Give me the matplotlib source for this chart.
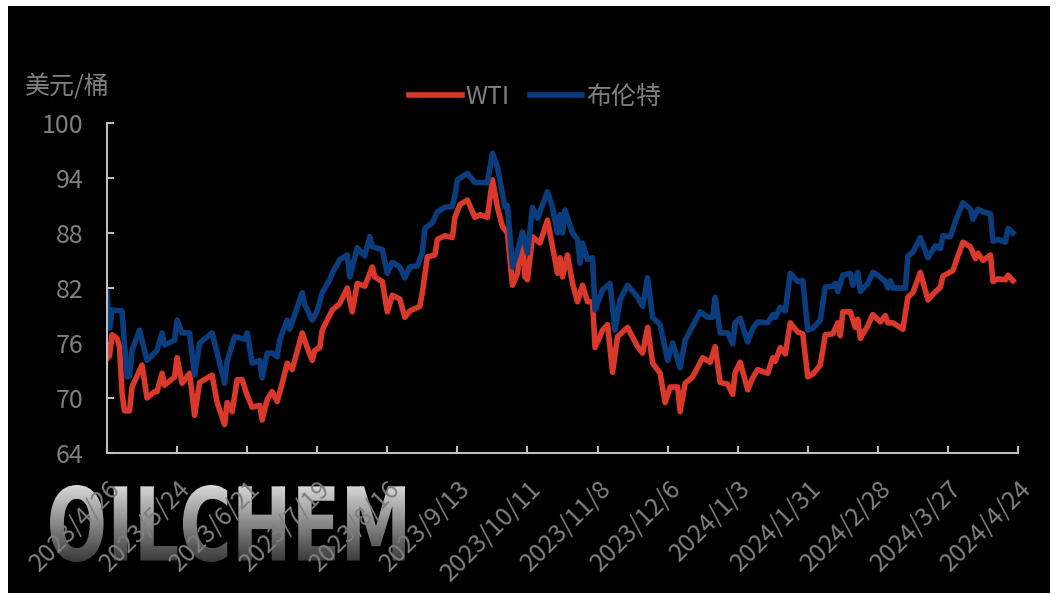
import pandas as pd
import matplotlib
matplotlib.use('Agg')
import matplotlib.pyplot as plt
from matplotlib.textpath import TextPath
from matplotlib.patches import PathPatch, Rectangle
from matplotlib.font_manager import FontProperties
from matplotlib.transforms import Affine2D
import numpy as np

plt.rcParams['font.family'] = ['Noto Sans CJK SC', 'DejaVu Sans']

# data (USD/bbl)
brent_dates = ['2023-04-26', '2023-04-27', '2023-04-28', '2023-05-02', '2023-05-04', '2023-05-05', '2023-05-06',
               '2023-05-09', '2023-05-12', '2023-05-16', '2023-05-18', '2023-05-19', '2023-05-23', '2023-05-24',
               '2023-05-26', '2023-05-29', '2023-05-31', '2023-06-02', '2023-06-07', '2023-06-12', '2023-06-13',
               '2023-06-16', '2023-06-20', '2023-06-21', '2023-06-23', '2023-06-26', '2023-06-27', '2023-06-29',
               '2023-07-01', '2023-07-03', '2023-07-04', '2023-07-07', '2023-07-08', '2023-07-13', '2023-07-14',
               '2023-07-17', '2023-07-19', '2023-07-21', '2023-07-24', '2023-07-25', '2023-07-28', '2023-07-31',
               '2023-08-01', '2023-08-04', '2023-08-07', '2023-08-09', '2023-08-10', '2023-08-14', '2023-08-16',
               '2023-08-18', '2023-08-21', '2023-08-23', '2023-08-25', '2023-08-28', '2023-08-30', '2023-08-31',
               '2023-09-03', '2023-09-05', '2023-09-08', '2023-09-11', '2023-09-12', '2023-09-13', '2023-09-17',
               '2023-09-20', '2023-09-25', '2023-09-27', '2023-09-29', '2023-10-02', '2023-10-03', '2023-10-05',
               '2023-10-07', '2023-10-09', '2023-10-11', '2023-10-13', '2023-10-15', '2023-10-19', '2023-10-21',
               '2023-10-23', '2023-10-24', '2023-10-25', '2023-10-26', '2023-10-29', '2023-10-31', '2023-11-01',
               '2023-11-02', '2023-11-04', '2023-11-06', '2023-11-07', '2023-11-10', '2023-11-13', '2023-11-15',
               '2023-11-17', '2023-11-20', '2023-11-24', '2023-11-26', '2023-11-28', '2023-11-30', '2023-12-03',
               '2023-12-06', '2023-12-08', '2023-12-11', '2023-12-13', '2023-12-19', '2023-12-22', '2023-12-24',
               '2023-12-25', '2023-12-27', '2023-12-30', '2024-01-01', '2024-01-02', '2024-01-04', '2024-01-07',
               '2024-01-09', '2024-01-11', '2024-01-15', '2024-01-17', '2024-01-18', '2024-01-20', '2024-01-22',
               '2024-01-24', '2024-01-27', '2024-01-29', '2024-01-31', '2024-02-02', '2024-02-05', '2024-02-07',
               '2024-02-10', '2024-02-11', '2024-02-12', '2024-02-14', '2024-02-17', '2024-02-18', '2024-02-20',
               '2024-02-21', '2024-02-24', '2024-02-26', '2024-02-28', '2024-03-02', '2024-03-03', '2024-03-04',
               '2024-03-05', '2024-03-10', '2024-03-11', '2024-03-13', '2024-03-16', '2024-03-19', '2024-03-22',
               '2024-03-24', '2024-03-25', '2024-03-28', '2024-03-30', '2024-04-02', '2024-04-05', '2024-04-06',
               '2024-04-08', '2024-04-10', '2024-04-13', '2024-04-14', '2024-04-16', '2024-04-19', '2024-04-20',
               '2024-04-22']
brent = [81.5, 77.6, 79.6, 79.5, 72.3, 72.4, 75.2,
         77.4, 74.1, 75.2, 77.1, 75.8, 76.3, 78.5,
         77.1, 77.1, 72.5, 76.0, 77.1, 71.6, 74.0,
         76.7, 76.4, 77.1, 73.8, 74.1, 72.2, 74.9,
         74.9, 74.5, 76.3, 78.5, 77.5, 81.5, 80.2,
         78.5, 79.5, 81.5, 82.9, 83.6, 85.1, 85.6,
         83.2, 86.4, 85.5, 87.6, 86.5, 86.2, 83.6,
         84.8, 84.3, 83.1, 84.3, 84.4, 85.9, 88.5,
         89.1, 90.3, 90.8, 90.9, 92.1, 93.8, 94.5,
         93.5, 93.5, 96.7, 95.2, 90.8, 91.0, 84.3,
         86.0, 88.1, 85.8, 90.8, 89.6, 92.5, 90.8,
         88.0, 90.0, 88.0, 90.5, 88.0, 87.3, 84.7,
         86.9, 85.1, 85.3, 79.6, 81.8, 82.5, 77.4,
         80.7, 82.3, 81.0, 80.0, 83.1, 78.8, 78.0,
         74.1, 76.0, 73.3, 76.3, 79.4, 78.8, 78.8,
         81.0, 77.1, 77.1, 75.9, 78.2, 78.7, 76.1,
         77.6, 78.3, 78.2, 79.1, 78.8, 79.9, 79.5,
         83.6, 82.7, 82.8, 77.4, 77.6, 78.5, 82.1,
         82.2, 82.5, 81.6, 83.4, 83.6, 82.3, 83.7,
         81.6, 82.5, 83.7, 83.4, 82.7, 82.0, 82.8,
         82.0, 82.0, 85.5, 85.9, 87.5, 85.3, 86.6,
         86.3, 87.7, 87.6, 89.3, 91.3, 90.6, 89.5,
         90.6, 90.3, 90.1, 87.1, 87.3, 87.0, 88.5,
         88.0]

wti_dates = ['2023-04-26', '2023-04-27', '2023-04-28', '2023-04-30', '2023-05-01', '2023-05-02', '2023-05-03',
             '2023-05-05', '2023-05-06', '2023-05-10', '2023-05-12', '2023-05-15', '2023-05-16', '2023-05-18',
             '2023-05-19', '2023-05-23', '2023-05-24', '2023-05-26', '2023-05-29', '2023-05-31', '2023-06-02',
             '2023-06-07', '2023-06-09', '2023-06-12', '2023-06-13', '2023-06-15', '2023-06-17', '2023-06-19',
             '2023-06-21', '2023-06-23', '2023-06-26', '2023-06-27', '2023-06-29', '2023-07-01', '2023-07-03',
             '2023-07-05', '2023-07-07', '2023-07-09', '2023-07-13', '2023-07-15', '2023-07-17', '2023-07-18',
             '2023-07-20', '2023-07-21', '2023-07-25', '2023-07-28', '2023-07-31', '2023-08-02', '2023-08-04',
             '2023-08-07', '2023-08-10', '2023-08-11', '2023-08-14', '2023-08-16', '2023-08-18', '2023-08-21',
             '2023-08-23', '2023-08-25', '2023-08-29', '2023-08-30', '2023-09-01', '2023-09-04', '2023-09-05',
             '2023-09-08', '2023-09-11', '2023-09-12', '2023-09-14', '2023-09-17', '2023-09-20', '2023-09-22',
             '2023-09-25', '2023-09-27', '2023-09-29', '2023-10-01', '2023-10-03', '2023-10-05', '2023-10-07',
             '2023-10-09', '2023-10-10', '2023-10-11', '2023-10-13', '2023-10-16', '2023-10-19', '2023-10-21',
             '2023-10-23', '2023-10-24', '2023-10-25', '2023-10-27', '2023-10-29', '2023-10-31', '2023-11-02',
             '2023-11-04', '2023-11-06', '2023-11-07', '2023-11-10', '2023-11-12', '2023-11-14', '2023-11-16',
             '2023-11-20', '2023-11-24', '2023-11-26', '2023-11-28', '2023-11-30', '2023-12-03', '2023-12-05',
             '2023-12-07', '2023-12-10', '2023-12-11', '2023-12-13', '2023-12-16', '2023-12-20', '2023-12-23',
             '2023-12-25', '2023-12-27', '2023-12-30', '2024-01-01', '2024-01-02', '2024-01-04', '2024-01-07',
             '2024-01-09', '2024-01-11', '2024-01-15', '2024-01-17', '2024-01-18', '2024-01-20', '2024-01-22',
             '2024-01-24', '2024-01-27', '2024-01-29', '2024-01-31', '2024-02-02', '2024-02-05', '2024-02-07',
             '2024-02-10', '2024-02-12', '2024-02-13', '2024-02-14', '2024-02-17', '2024-02-19', '2024-02-20',
             '2024-02-21', '2024-02-24', '2024-02-26', '2024-02-29', '2024-03-02', '2024-03-03', '2024-03-05',
             '2024-03-09', '2024-03-11', '2024-03-13', '2024-03-16', '2024-03-19', '2024-03-22', '2024-03-24',
             '2024-03-25', '2024-03-29', '2024-03-31', '2024-04-02', '2024-04-05', '2024-04-07', '2024-04-08',
             '2024-04-10', '2024-04-13', '2024-04-14', '2024-04-16', '2024-04-19', '2024-04-20', '2024-04-22']
wti = [74.3, 74.6, 76.9, 76.5, 75.6, 70.5, 68.6,
       68.6, 71.2, 73.6, 70.0, 70.7, 70.7, 72.7,
       71.4, 72.3, 74.4, 71.6, 72.7, 68.1, 71.7,
       72.5, 69.5, 67.1, 69.5, 68.5, 72.0, 72.0,
       70.3, 69.0, 69.2, 67.6, 69.8, 70.7, 69.6,
       71.6, 73.8, 73.1, 77.1, 75.5, 74.1, 75.2,
       75.5, 77.4, 79.6, 80.3, 82.0, 79.4, 82.5,
       82.2, 84.3, 83.2, 82.7, 79.4, 81.2, 80.8,
       78.8, 79.5, 80.0, 81.5, 85.4, 85.6, 87.3,
       87.7, 87.5, 89.7, 91.1, 91.6, 89.7, 90.0,
       89.7, 93.8, 90.8, 88.7, 88.0, 82.3, 83.6,
       87.8, 83.2, 82.9, 87.6, 86.9, 89.4, 86.5,
       83.6, 85.3, 83.2, 85.6, 82.5, 80.5, 82.3,
       80.5, 80.5, 75.5, 77.4, 78.0, 72.8, 76.7,
       77.7, 75.6, 74.9, 77.7, 73.8, 72.7, 69.5,
       71.2, 71.2, 68.5, 71.6, 72.3, 74.4, 73.9,
       75.6, 71.7, 71.5, 70.4, 72.8, 73.9, 70.9,
       72.2, 73.1, 72.7, 74.4, 74.0, 75.5, 74.8,
       78.2, 77.2, 77.0, 72.3, 72.6, 73.6, 76.9,
       77.0, 78.2, 76.8, 79.4, 79.4, 77.7, 78.6,
       76.5, 77.9, 79.1, 78.3, 79.0, 78.2, 78.2,
       77.5, 81.0, 81.5, 83.7, 80.7, 81.6, 82.1,
       83.3, 83.9, 85.5, 87.0, 86.5, 85.2, 85.8,
       85.0, 85.6, 82.7, 83.0, 82.9, 83.4, 82.8]

tick_dates = ['2023-04-26', '2023-05-24', '2023-06-21', '2023-07-19', '2023-08-16', '2023-09-13', '2023-10-11',
              '2023-11-08', '2023-12-06', '2024-01-03', '2024-01-31', '2024-02-28', '2024-03-27', '2024-04-24']
tick_labels = ['2023/4/26', '2023/5/24', '2023/6/21', '2023/7/19', '2023/8/16', '2023/9/13', '2023/10/11',
               '2023/11/8', '2023/12/6', '2024/1/3', '2024/1/31', '2024/2/28', '2024/3/27', '2024/4/24']
y_ticks = [64, 70, 76, 82, 88, 94, 100]

W, H = 1058, 594
grey = '#7F7F7F'
axis_col = '#BFBFBF'
red = '#D9382A'
blue = '#0B3D7E'
fs = 18

fig = plt.figure(figsize=(W / 100, H / 100), dpi=100, facecolor='white')
# black panel inside thin white frame
fig.add_artist(Rectangle((8 / W, 1 / H), (1050 - 8) / W, (593 - 6) / H, transform=fig.transFigure,
                         facecolor='black', edgecolor='none', zorder=-10))

# OILCHEM watermark with a grey gradient
wm = fig.add_axes([0, 0, 1, 1], zorder=-1)
wm.axis('off')
tp = TextPath((0, 0), 'OILCHEM', size=100, prop=FontProperties(family='DejaVu Sans', weight='bold'))
bb = tp.get_extents()
x0, x1, y0, y1 = 50, 405, 32, 109
tr = Affine2D().translate(-bb.x0, -bb.y0).scale((x1 - x0) / bb.width, (y1 - y0) / bb.height).translate(x0, y0)
tp = tr.transform_path(tp)
patch = PathPatch(tp, facecolor='none', edgecolor='none')
wm.add_patch(patch)
grad = np.linspace(0.85, 0.22, 200).reshape(-1, 1)
im = wm.imshow(grad, cmap='gray', vmin=0, vmax=1, extent=(x0, x1, y0, y1), aspect='auto', origin='upper')
im.set_clip_path(patch)
wm.set_xlim(0, W)
wm.set_ylim(0, H)

ax = fig.add_axes([107 / W, 1 - 453 / H, (1018 - 107) / W, (453 - 123) / H], zorder=1)
ax.set_facecolor('none')

l1, = ax.plot(pd.to_datetime(wti_dates), wti, color=red, lw=4, solid_joinstyle='round', label='WTI')
l2, = ax.plot(pd.to_datetime(brent_dates), brent, color=blue, lw=4, solid_joinstyle='round', label='布伦特')

ax.set_xlim(pd.Timestamp(tick_dates[0]), pd.Timestamp(tick_dates[-1]))
ax.set_ylim(64, 100)
ax.set_yticks(y_ticks)
ax.set_xticks(pd.to_datetime(tick_dates))
ax.set_xticklabels(tick_labels, rotation=45, ha='right', va='top', rotation_mode='anchor')

for s in ['top', 'right']:
    ax.spines[s].set_visible(False)
for s in ['left', 'bottom']:
    ax.spines[s].set_color(axis_col)
    ax.spines[s].set_linewidth(1.5)
ax.tick_params(axis='y', direction='in', length=5, width=1.5, color=axis_col, labelcolor=grey,
               labelsize=fs, pad=17)
ax.tick_params(axis='x', direction='in', length=5, width=1.5, color=axis_col, labelcolor=grey,
               labelsize=fs, pad=16)

fig.text(25 / W, 1 - 87 / H, '美元/桶', color=grey, fontsize=fs, ha='left', va='center')
fig.legend(handles=[l1, l2], loc='center', bbox_to_anchor=(535 / W, 1 - 97 / H), ncol=2, frameon=False,
           fontsize=fs, labelcolor=grey, handlelength=2.1, handletextpad=0.15, columnspacing=0.8)

fig.savefig('out.png', dpi=100, facecolor=fig.get_facecolor())
